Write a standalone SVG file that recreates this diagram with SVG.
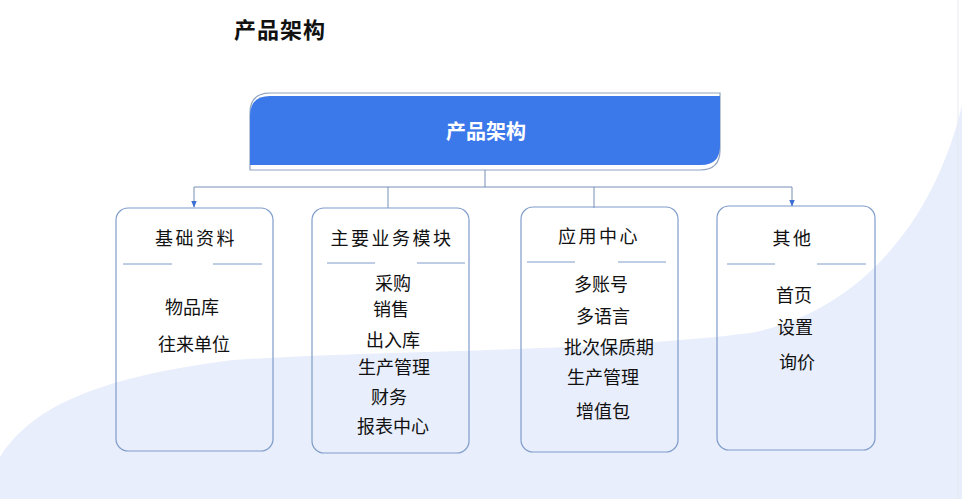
<svg xmlns="http://www.w3.org/2000/svg" width="962" height="499" viewBox="0 0 962 499">
<style>
.box{fill:none;stroke:#7f9ccb;stroke-width:1.2}
.div{stroke:#7f9ccb;stroke-width:1}
.ttl{font-family:"Noto Sans CJK SC","Noto Sans",sans-serif;font-size:18px;fill:#111;text-anchor:middle;letter-spacing:2.5px}
.itm{font-family:"Noto Sans CJK SC","Noto Sans",sans-serif;font-size:18px;fill:#111;text-anchor:middle}
.con{fill:none;stroke:#7790b8;stroke-width:1}
</style>
<defs>
<marker id="arr" viewBox="0 0 10 10" refX="9" refY="5" markerWidth="7" markerHeight="7" orient="auto">
<path d="M0,1 L10,5 L0,9 z" fill="#3b6fd6"/>
</marker>
</defs>
<rect width="962" height="499" fill="#ffffff"/>
<path d="M0,457 C30,410 90,378 233,360 C380,350 600,352 750,333 C860,312 935,220 962,105 L962,499 L0,499 z" fill="#e8eefb"/>
<line x1="958" y1="0" x2="958" y2="499" stroke="#e6e9ef" stroke-width="1"/>
<text x="280" y="38" font-family="Noto Sans CJK SC,sans-serif" font-size="22" font-weight="bold" fill="#111" text-anchor="middle" letter-spacing="1">产品架构</text>
<g id="root">
<path d="M250,170 L250,113 Q250,93 270,93 L720,93 L720,150 Q720,170 700,170 z" fill="#ffffff" stroke="#8fa3c0" stroke-width="1.2"/>
<path d="M250,165 L250,116 Q250,96 270,96 L720,96 L720,146 Q720,165 701,165 z" fill="#3b78ea"/>
<text x="486" y="139" font-family="Noto Sans CJK SC,sans-serif" font-size="20" font-weight="bold" fill="#ffffff" text-anchor="middle">产品架构</text>
</g>
<g id="connectors">
<path class="con" d="M485,170 V187"/>
<path class="con" d="M194,187 H792"/>
<path class="con" d="M194,187 V207" marker-end="url(#arr)"/>
<path class="con" d="M388,187 V208"/>
<path class="con" d="M594,187 V208"/>
<path class="con" d="M792,187 V206" marker-end="url(#arr)"/>
</g>
<g id="n1">
<rect class="box" x="116" y="208" width="157" height="243" rx="12"/>
<text class="ttl" x="196" y="245">基础资料</text>
<line class="div" x1="123" y1="264" x2="172" y2="264"/>
<line class="div" x1="213" y1="264" x2="262" y2="264"/>
<text class="itm" x="192" y="314">物品库</text>
<text class="itm" x="194" y="351">往来单位</text>
</g>
<g id="n2">
<rect class="box" x="312" y="208" width="157" height="245" rx="12"/>
<text class="ttl" x="392" y="245">主要业务模块</text>
<line class="div" x1="327" y1="263" x2="375" y2="263"/>
<line class="div" x1="417" y1="263" x2="465" y2="263"/>
<text class="itm" x="393" y="290">采购</text>
<text class="itm" x="391" y="316">销售</text>
<text class="itm" x="393" y="347">出入库</text>
<text class="itm" x="394" y="374">生产管理</text>
<text class="itm" x="389" y="404">财务</text>
<text class="itm" x="393" y="433">报表中心</text>
</g>
<g id="n3">
<rect class="box" x="521" y="207" width="157" height="245" rx="12"/>
<text class="ttl" x="599" y="243">应用中心</text>
<line class="div" x1="527" y1="262" x2="575" y2="262"/>
<line class="div" x1="618" y1="262" x2="666" y2="262"/>
<text class="itm" x="601" y="291">多账号</text>
<text class="itm" x="603" y="323">多语言</text>
<text class="itm" x="609" y="354">批次保质期</text>
<text class="itm" x="603" y="384">生产管理</text>
<text class="itm" x="603" y="418">增值包</text>
</g>
<g id="n4">
<rect class="box" x="717" y="206" width="158" height="244" rx="12"/>
<text class="ttl" x="793" y="245">其他</text>
<line class="div" x1="727" y1="264" x2="775" y2="264"/>
<line class="div" x1="817" y1="264" x2="866" y2="264"/>
<text class="itm" x="794" y="302">首页</text>
<text class="itm" x="795" y="334">设置</text>
<text class="itm" x="797" y="369">询价</text>
</g>
</svg>
